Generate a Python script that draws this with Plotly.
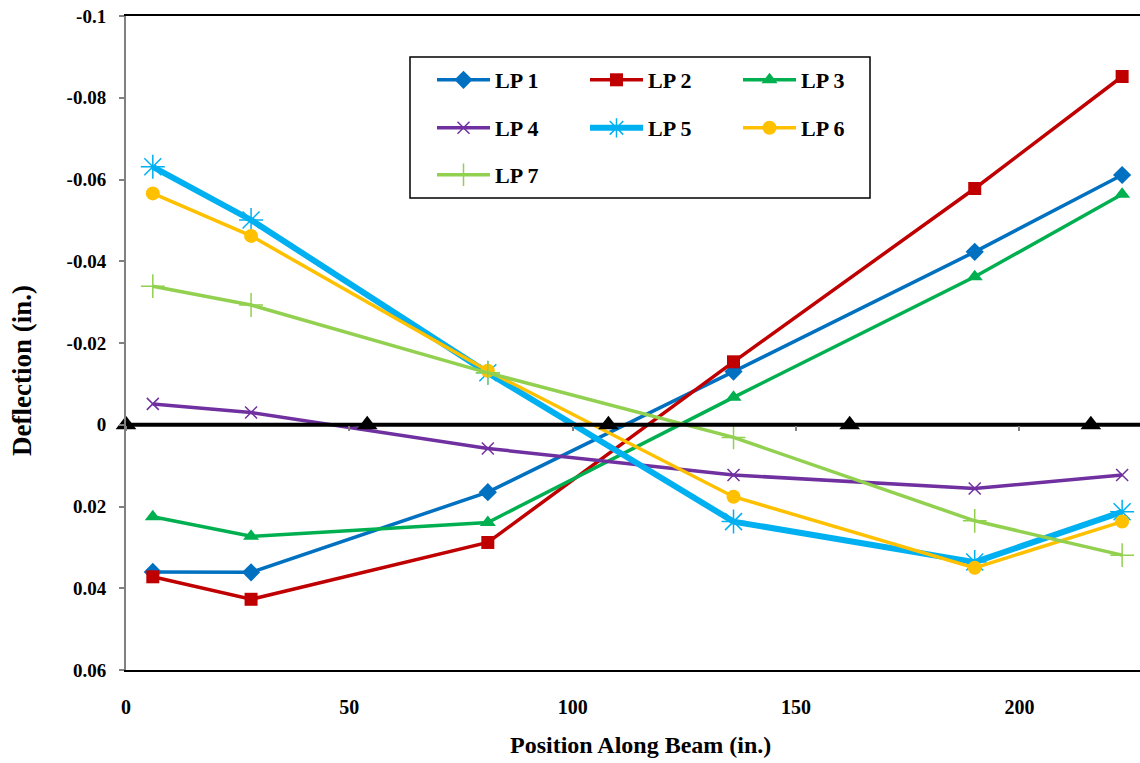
import plotly.graph_objects as go

# ---- data ----
positions = [6, 28, 81, 136, 190, 223]
lp1 = [0.0360, 0.0361, 0.0165, -0.0130, -0.0423, -0.0611]
lp2 = [0.0372, 0.0427, 0.0288, -0.0154, -0.0578, -0.0852]
lp3 = [0.0225, 0.0273, 0.0239, -0.0067, -0.0362, -0.0564]
lp4 = [-0.0051, -0.0030, 0.0058, 0.0123, 0.0156, 0.0123]
lp5 = [-0.0631, -0.0501, -0.0127, 0.0237, 0.0336, 0.0213]
lp6 = [-0.0566, -0.0462, -0.0132, 0.0176, 0.0350, 0.0237]
lp7 = [-0.0339, -0.0293, -0.0127, 0.0031, 0.0235, 0.0319]
support_x = [0, 54, 108, 162, 216]
support_y = [0, 0, 0, 0, 0]
beam_x = [0, 228]
beam_y = [0, 0]
y_tickvals = [-0.1, -0.08, -0.06, -0.04, -0.02, 0, 0.02, 0.04, 0.06]
y_ticktext = ["-0.1", "-0.08", "-0.06", "-0.04", "-0.02", "0", "0.02", "0.04", "0.06"]
x_tickvals = [0, 50, 100, 150, 200]
x_ticktext = ["0", "50", "100", "150", "200"]

FONT = "Liberation Serif"

series = [
    ("LP 1", lp1, "#0070C0", "diamond", 14, 3.5, "legend"),
    ("LP 2", lp2, "#C00000", "square", 13, 3.5, "legend"),
    ("LP 3", lp3, "#00B050", "triangle-up", 14, 3.5, "legend"),
    ("LP 4", lp4, "#7030A0", "x-thin-open", 12, 3.5, "legend2"),
    ("LP 5", lp5, "#00B0F0", "asterisk-open", 20, 6, "legend2"),
    ("LP 6", lp6, "#FFC000", "circle", 14, 3.5, "legend2"),
    ("LP 7", lp7, "#92D050", "cross-thin-open", 17, 3.5, "legend3"),
]

fig = go.Figure()

fig.add_trace(go.Scatter(x=beam_x, y=beam_y, mode="lines", xaxis="x2",
                         line=dict(color="black", width=4), showlegend=False,
                         hoverinfo="skip"))

for name, ys, color, sym, size, lw, lg in series:
    open_sym = sym.endswith("-open")
    fig.add_trace(go.Scatter(
        x=positions, y=ys, name=name, mode="lines+markers",
        line=dict(color=color, width=lw),
        marker=dict(symbol=sym, size=size, color=color,
                    line=dict(color=color, width=1.5 if open_sym else 0)),
        legend=lg, cliponaxis=False,
    ))

fig.add_trace(go.Scatter(x=support_x, y=support_y, mode="markers", xaxis="x2",
                         marker=dict(symbol="triangle-up", size=18, color="black"),
                         showlegend=False, cliponaxis=False))

def px_x(p):
    return (p - 126) / 1014.0

def px_y(p):
    return 1 - (p - 16) / 654.0

legend_common = dict(orientation="h", xanchor="left", yanchor="middle",
                     entrywidth=85, entrywidthmode="pixels", itemwidth=53,
                     font=dict(family=FONT, size=22, color="black", weight="bold"),
                     bgcolor="rgba(0,0,0,0)", borderwidth=0, tracegroupgap=0)

fig.update_layout(
    width=1140, height=763,
    margin=dict(l=126, r=0, t=16, b=763 - 670, autoexpand=False),
    plot_bgcolor="white", paper_bgcolor="white",
    font=dict(family=FONT, color="black"),
    xaxis=dict(range=[0, 227], tickvals=x_tickvals, ticktext=x_ticktext,
               showgrid=False, zeroline=False, showline=True, mirror=True,
               linecolor="black", linewidth=1.5, ticks="", automargin=False,
               ticklabelstandoff=18,
               tickfont=dict(family=FONT, size=20, color="black", weight="bold")),
    xaxis2=dict(range=[0, 227], overlaying="x", anchor="free", position=0.375,
                side="bottom", tickvals=x_tickvals, showticklabels=False,
                showgrid=False, zeroline=False, showline=False, automargin=False,
                ticks="outside", ticklen=5, tickcolor="#808080", tickwidth=1.5),
    yaxis=dict(range=[0.06, -0.1], tickvals=y_tickvals, ticktext=y_ticktext,
               showgrid=False, zeroline=False, showline=True, automargin=False,
               linecolor="#808080", linewidth=2, ticks="outside", ticklen=5,
               tickcolor="#808080", tickwidth=1.5, ticklabelstandoff=9,
               ticklabeloverflow="allow",
               tickfont=dict(family=FONT, size=19, color="black", weight="bold")),
    legend=dict(x=px_x(432), y=px_y(80), **legend_common),
    legend2=dict(x=px_x(432), y=px_y(128), **legend_common),
    legend3=dict(x=px_x(432), y=px_y(175), **legend_common),
    shapes=[dict(type="rect", xref="paper", yref="paper",
                 x0=px_x(410), x1=px_x(870), y0=px_y(198), y1=px_y(57),
                 line=dict(color="black", width=1.5), fillcolor="rgba(0,0,0,0)",
                 layer="below")],
    annotations=[
        dict(text="Deflection (in.)", xref="paper", yref="paper",
             x=px_x(22), y=px_y(371), textangle=-90, showarrow=False,
             xanchor="center", yanchor="middle",
             font=dict(family=FONT, size=27, color="black", weight="bold")),
        dict(text="Position Along Beam (in.)", xref="paper", yref="paper",
             x=px_x(640), y=px_y(745), showarrow=False,
             xanchor="center", yanchor="middle",
             font=dict(family=FONT, size=24, color="black", weight="bold")),
    ],
)

fig.write_html("out.html",
               config={"displayModeBar": False},
               post_script="document.body.style.margin='0';"
                           "document.body.style.padding='0';"
                           "document.body.style.overflow='hidden';")
